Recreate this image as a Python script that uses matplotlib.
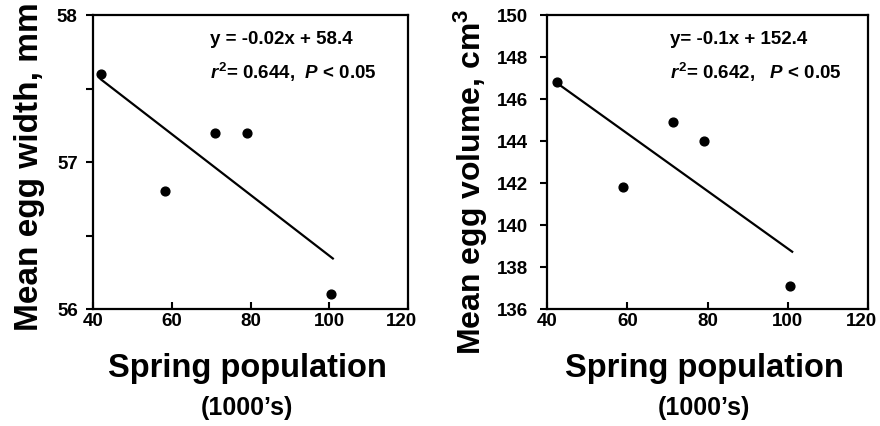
import numpy as np
import matplotlib.pyplot as plt
from matplotlib.transforms import ScaledTranslation

# fonts: bold Arial-like everywhere, italic bold for r and P
plt.rcParams['font.family'] = ['Liberation Sans', 'DejaVu Sans']
plt.rcParams['font.weight'] = 'bold'
plt.rcParams['mathtext.fontset'] = 'custom'
plt.rcParams['mathtext.rm'] = 'Liberation Sans:bold'
plt.rcParams['mathtext.it'] = 'Liberation Sans:bold:italic'
plt.rcParams['mathtext.bf'] = 'Liberation Sans:bold'

# data
pop_width = np.array([42, 58.4, 71, 79, 100.4])
egg_width = np.array([57.6, 56.8, 57.2, 57.2, 56.1])
pop_volume = np.array([42.5, 59, 71.5, 79, 100.6])
egg_volume = np.array([146.8, 141.8, 144.9, 144.0, 137.1])

eq_width = ['y = -0.02x + 58.4', '$r^2$= 0.644,  $P$ < 0.05']
eq_volume = ['y= -0.1x + 152.4', '$r^2$= 0.642,   $P$ < 0.05']

fig = plt.figure(figsize=(8.8, 4.26), dpi=100)
ax1 = fig.add_axes([0.1057, 0.2746, 0.358, 0.690])
ax2 = fig.add_axes([0.6216, 0.2746, 0.3648, 0.690])


def draw(ax, x, y, eq, ylabel, yticks, eq_x, ypad, minor=None):
    ax.scatter(x, y, s=40, color='black', zorder=3)
    slope, icpt = np.polyfit(x, y, 1)
    xs = np.array([x.min(), x.max() + 0.5])
    ax.plot(xs, slope * xs + icpt, color='black', lw=1.6)

    ax.set_xlim(40, 120)
    ax.set_xticks([40, 60, 80, 100, 120])
    ax.set_ylim(yticks[0], yticks[-1])
    ax.set_yticks(yticks)
    if minor is not None:
        ax.set_yticks(minor, minor=True)
    ax.tick_params(axis='x', direction='in', length=5, width=1.5,
                   labelsize=13.5, pad=3)
    ax.tick_params(axis='y', which='both', direction='out', length=5,
                   width=1.5, labelsize=13.5, pad=ypad)
    for lab in ax.get_xticklabels() + ax.get_yticklabels():
        lab.set_fontweight('bold')
    # last x label sits a little left of its tick
    last = ax.get_xticklabels()[-1]
    last.set_transform(last.get_transform()
                       + ScaledTranslation(-7 / 100, 0, fig.dpi_scale_trans))
    for sp in ax.spines.values():
        sp.set_linewidth(1.6)

    ax.text(eq_x, 0.945, eq[0], transform=ax.transAxes, fontsize=13.5,
            fontweight='bold', va='top')
    ax.text(eq_x, 0.845, eq[1], transform=ax.transAxes, fontsize=13.5,
            fontweight='bold', va='top')

    ax.text(0.49, -0.231, 'Spring population', transform=ax.transAxes,
            ha='center', va='baseline', fontsize=23.5, fontweight='bold')
    ax.text(0.49, -0.36, "(1000\u2019s)", transform=ax.transAxes,
            ha='center', va='baseline', fontsize=18, fontweight='bold')

    ax.set_ylabel(ylabel, fontsize=24, fontweight='bold')


draw(ax1, pop_width, egg_width, eq_width, 'Mean egg width, mm',
     [56, 57, 58], 0.37, 6, minor=[56.5, 57.5])
ax1.yaxis.set_label_coords(-0.152, 0.483)

draw(ax2, pop_volume, egg_volume, eq_volume, 'Mean egg volume, cm$^3$',
     [136, 138, 140, 142, 144, 146, 148, 150], 0.383, 8.5)
ax2.yaxis.label.set_fontsize(23)
ax2.yaxis.set_label_coords(-0.178, 0.432)

fig.savefig('out.png', dpi=100)
